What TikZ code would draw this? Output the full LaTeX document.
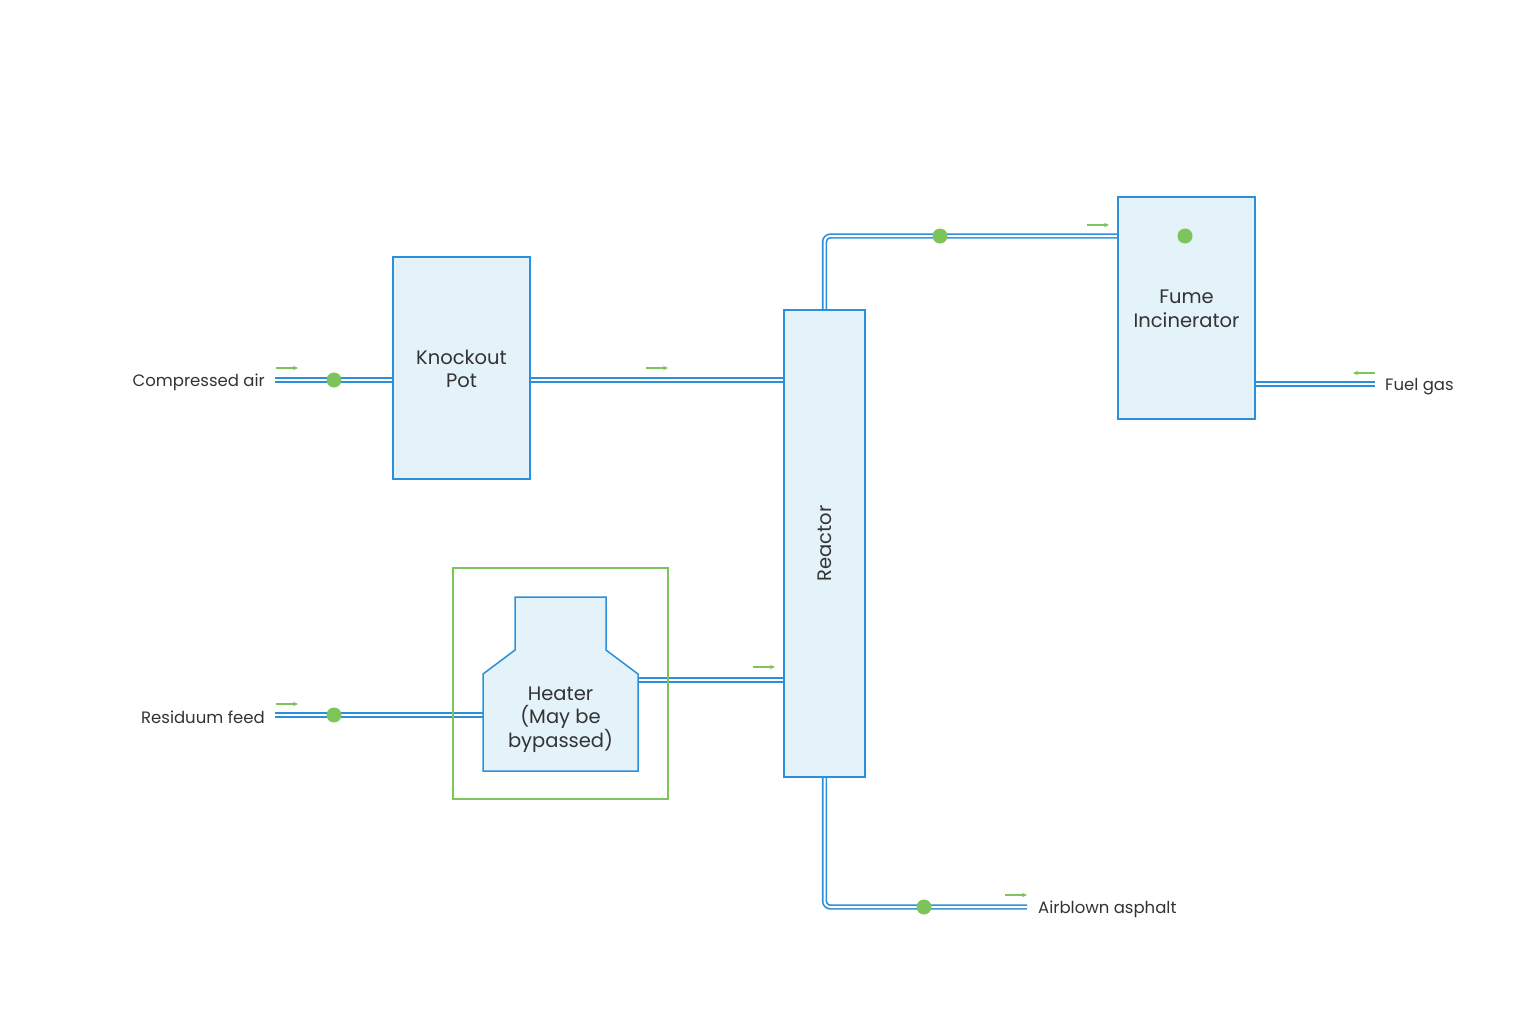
\documentclass[tikz,border=0pt]{standalone}
\usepackage{fontspec}
\setmainfont{Poppins}
\usetikzlibrary{arrows.meta,calc}
\definecolor{pipeblue}{HTML}{2B90D9}
\definecolor{boxfill}{HTML}{E4F2FA}
\definecolor{lgreen}{HTML}{7DC45A}
\definecolor{txt}{HTML}{333333}
\begin{document}
\begin{tikzpicture}[x=1pt,y=-1pt,
 unitbox/.style={draw=pipeblue,line width=1.5pt,fill=boxfill,inner sep=0pt},
 lbl/.style={text=txt,font=\fontsize{16.5}{23}\selectfont,align=center,inner sep=0pt},
 ulbl/.style={text=txt,font=\fontsize{19.5}{23.5}\selectfont,align=center,inner sep=0pt},
 pipe/.style={draw=pipeblue,line width=1.7pt,double=white,double distance=2pt,rounded corners=6pt},
 flow/.style={draw=lgreen,line width=1.4pt,-{Stealth[length=5pt,width=4.5pt]}},
 valve/.style={circle,fill=lgreen,minimum size=15pt,inner sep=0pt},
 frame/.style={draw=lgreen,line width=1.8pt}]
\useasboundingbox (0,0) rectangle (1536,1020);

% coordinates
\coordinate (ca) at (275,380);
\coordinate (rf) at (275,715);
\coordinate (hin) at (483,715);
\coordinate (hout) at (638,680);
\coordinate (fg) at (1375,384);
\coordinate (ab) at (1027,907);

% pipes first
\node[minimum width=137pt,minimum height=222pt,inner sep=0pt] (kp) at (461.5,368) {};
\node[minimum width=81pt,minimum height=467pt,inner sep=0pt] (re) at (824.5,543.5) {};
\node[minimum width=137pt,minimum height=222pt,inner sep=0pt] (fi) at (1186.5,308) {};

\draw[pipe] (ca) -- (ca -| kp.west);
\draw[pipe] (ca -| kp.east) -- (ca -| re.west);
\draw[pipe] (rf) -- (hin);
\draw[pipe] (hout) -- (hout -| re.west);
\draw[pipe] (re.north) -- (re.north |- 0,236) -- (fi.west |- 0,236);
\draw[pipe] (fg) -- (fg -| fi.east);
\draw[pipe] (re.south) -- (re.south |- ab) -- (ab);

% units
\node[unitbox,minimum width=137pt,minimum height=222pt] at (kp) {};
\node[ulbl] (kpt) at (461.5,369) {Knockout\\Pot};
\node[unitbox,minimum width=81pt,minimum height=467pt] at (re) {};
\node[ulbl,rotate=90] (ret) at (re) {Reactor};
\node[unitbox,minimum width=137pt,minimum height=222pt] at (fi) {};
\node[ulbl] (fit) at (1186.5,309) {Fume\\Incinerator};
\node[valve] (fiv) at (1185,236) {};

\draw[unitbox] (515,597) -- (606,597) -- (606,650) -- (638,674) -- (638,771)
  -- (483,771) -- (483,674) -- (515,650) -- cycle;
\node[ulbl] (ht) at (560.5,719.5) {Heater\\(May be\\bypassed)};
\draw[frame] (453,568) rectangle (668,799);

% valves
\node[valve] (v1) at (334,380) {};
\node[valve] (v2) at (334,715) {};
\node[valve] (v3) at (940,236) {};
\node[valve] (v4) at (924,907) {};

% flow arrows
\draw[flow] (276,368) -- (298,368);
\draw[flow] (646,368) -- (668,368);
\draw[flow] (276,704) -- (298,704);
\draw[flow] (753,667) -- (775,667);
\draw[flow] (1087,225) -- (1109,225);
\draw[flow] (1375,373) -- (1353,373);
\draw[flow] (1005,895) -- (1027,895);

% labels
\node[lbl,anchor=east] (lca) at (265,382) {Compressed air};
\node[lbl,anchor=east] (lrf) at (265,717) {Residuum feed};
\node[lbl,anchor=west] (lfg) at (1385,387) {Fuel gas};
\node[lbl,anchor=west] (lab) at (1038,909) {Airblown asphalt};
\end{tikzpicture}
\end{document}
